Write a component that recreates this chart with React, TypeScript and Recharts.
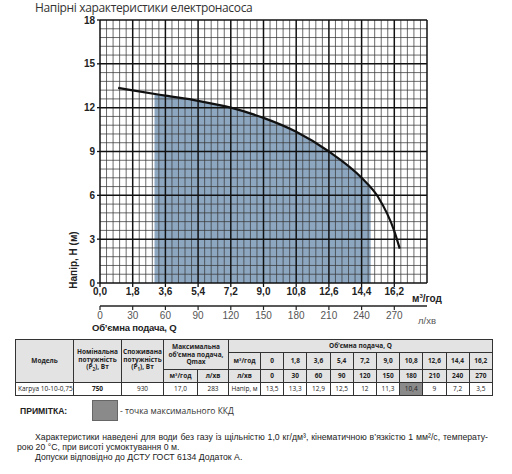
import React from 'react';
import {
  ComposedChart, Line, Area, XAxis, YAxis, ReferenceLine,
} from 'recharts';

// tick labels
const qTicks = [0, 1.8, 3.6, 5.4, 7.2, 9, 10.8, 12.6, 14.4, 16.2];
const lminTicks = [0, 30, 60, 90, 120, 150, 180, 210, 240, 270];
const headTicks = [0, 3, 6, 9, 12, 15, 18];

// pump curve
const curveQ = [1.0, 1.8, 3.6, 5.4, 7.2, 9.0, 10.8, 12.6, 14.4, 15.3, 16.2, 16.5];
const curveH = [13.35, 13.18, 12.82, 12.47, 12.0, 11.3, 10.35, 9.0, 7.2, 5.9, 3.55, 2.35];

// working range (shaded)
const zoneQ = [3.0, 3.6, 5.4, 7.2, 9.0, 10.8, 12.6, 14.4, 14.9];
const zoneH = [12.9, 12.82, 12.47, 12.0, 11.3, 10.35, 9.0, 7.2, 6.5];

// table values
const tableH = [13.5, 13.3, 12.9, 12.5, 12, 11.3, 10.4, 9, 7.2, 3.5];
const bestIdx = 6;

// grid steps
const majorQ = [...qTicks, 18];
const minorQ = Array.from({ length: 50 }, (_, i) => +(i * 0.36).toFixed(2)).filter((v) => !majorQ.some((m) => Math.abs(m - v) < 0.01));
const minorH = Array.from({ length: 30 }, (_, i) => +(i * 0.6).toFixed(1)).filter((v) => !headTicks.some((m) => Math.abs(m - v) < 0.01));

const curve = curveQ.map((q, i) => ({ q, h: curveH[i] }));
const zone = zoneQ.map((q, i) => ({ q, h: zoneH[i] }));
// table points on the l/min scale (drawn invisible, keeps the second axis alive)
const tableLmin = lminTicks.map((l, i) => ({ l, h: tableH[i] }));

const comma = (v: number) => (v === 0 ? '0' : v.toFixed(1).replace('.', ','));
const num = (v: number) => String(v).replace('.', ',');

const AXIS_FONT = 'Liberation Sans, Arial, sans-serif';
const TEXT_FONT = '"Open Sans", "Noto Sans", sans-serif';

const cell: React.CSSProperties = {
  border: '1px solid #333', padding: 0, textAlign: 'center', verticalAlign: 'middle',
  overflow: 'hidden', whiteSpace: 'nowrap',
};
const head: React.CSSProperties = { ...cell, background: '#e3e3e3', fontWeight: 700 };

const SpecTable = () => (
  <table style={{
    position: 'absolute', left: 15, top: 339, width: 477, borderCollapse: 'collapse', tableLayout: 'fixed',
    fontFamily: TEXT_FONT, fontSize: 6.5, color: '#222', lineHeight: '7.5px', borderTop: '1.5px solid #222',
  }}>
    <colgroup>
      {[58, 48, 42, 34, 31, 32].map((w, i) => <col key={i} style={{ width: w }} />)}
      {tableH.map((_, i) => <col key={'d' + i} style={{ width: 23.2 }} />)}
    </colgroup>
    <tbody>
      <tr style={{ height: 13 }}>
        <td rowSpan={3} style={head}>Модель</td>
        <td rowSpan={3} style={{ ...head, whiteSpace: 'normal' }}>Номінальна<br />потужність<br />(P<sub style={{ fontSize: 4.5 }}>2</sub>), Вт</td>
        <td rowSpan={3} style={{ ...head, whiteSpace: 'normal' }}>Споживана<br />потужність<br />(P<sub style={{ fontSize: 4.5 }}>1</sub>), Вт</td>
        <td rowSpan={2} colSpan={2} style={{ ...head, whiteSpace: 'normal' }}>Максимальна<br />об’ємна подача,<br />Qmax</td>
        <td colSpan={11} style={head}>Об’ємна подача, Q</td>
      </tr>
      <tr style={{ height: 17 }}>
        <td style={head}>м³/год</td>
        {qTicks.map((v) => <td key={v} style={head}>{comma(v)}</td>)}
      </tr>
      <tr style={{ height: 13 }}>
        <td style={head}>м³/год</td>
        <td style={head}>л/хв</td>
        <td style={head}>л/хв</td>
        {lminTicks.map((v) => <td key={v} style={head}>{v}</td>)}
      </tr>
      <tr style={{ height: 13 }}>
        <td style={{ ...cell, textAlign: 'left', paddingLeft: 2 }}>Karpya 10-10-0,75</td>
        <td style={{ ...cell, fontWeight: 700 }}>750</td>
        <td style={cell}>930</td>
        <td style={cell}>17,0</td>
        <td style={cell}>283</td>
        <td style={cell}>Напір, м</td>
        {tableH.map((v, i) => (
          <td key={i} style={{ ...cell, background: i === bestIdx ? '#8a8a8a' : '#fff' }}>{num(v)}</td>
        ))}
      </tr>
    </tbody>
  </table>
);

const PumpChart = () => (
  <ComposedChart width={512} height={340} margin={{ top: 20, right: 85, left: 70, bottom: 4 }}
    style={{ position: 'absolute', left: 0, top: 0 }}>
    <XAxis dataKey="q" type="number" domain={[0, 18]} ticks={qTicks} interval={0} allowDataOverflow
      tickFormatter={(v: number) => v.toFixed(1).replace('.', ',')}
      axisLine={false} tickLine={{ stroke: '#111', strokeWidth: 1.3 }} tickSize={4} tickMargin={1} height={23}
      tick={{ fontSize: 10, fontWeight: 700, fill: '#222', fontFamily: AXIS_FONT }} />
    <XAxis xAxisId="lmin" dataKey="l" type="number" domain={[0, 300]} ticks={lminTicks} interval={0} allowDataOverflow
      axisLine={{ stroke: '#222', strokeWidth: 1.5 }} tickLine={{ stroke: '#222', strokeWidth: 1.2 }} tickSize={4} tickMargin={2} height={30}
      tick={{ fontSize: 10, fill: '#555', fontFamily: AXIS_FONT }} />
    <YAxis type="number" domain={[0, 18]} ticks={headTicks} interval={0} width={30} allowDataOverflow
      axisLine={false} tickLine={{ stroke: '#111', strokeWidth: 1.3 }} tickSize={3} tickMargin={2}
      tick={{ fontSize: 10, fontWeight: 700, fill: '#222', fontFamily: AXIS_FONT }} />
    {minorQ.map((v) => <ReferenceLine key={'mq' + v} x={v} stroke="#3a3a3a" strokeWidth={0.75} />)}
    {minorH.map((v) => <ReferenceLine key={'mh' + v} y={v} stroke="#3a3a3a" strokeWidth={0.75} />)}
    {majorQ.map((v) => <ReferenceLine key={'q' + v} x={v} stroke="#111" strokeWidth={1.5} />)}
    {headTicks.map((v) => <ReferenceLine key={'h' + v} y={v} stroke="#111" strokeWidth={1.5} />)}
    <Area data={zone} dataKey="h" type="monotone" fill="#3a6894" fillOpacity={0.58} stroke="none" isAnimationActive={false} />
    <Line data={curve} dataKey="h" type="monotone" stroke="#111" strokeWidth={2.2} dot={false} isAnimationActive={false} />
    <Line xAxisId="lmin" data={tableLmin} dataKey="h" stroke="none" dot={false} activeDot={false} isAnimationActive={false} />
  </ComposedChart>
);

const note: React.CSSProperties = {
  position: 'absolute', fontFamily: AXIS_FONT, fontSize: 8.7, lineHeight: '10px',
  whiteSpace: 'nowrap', color: '#222',
};

export default function App() {
  return (
    <div style={{ position: 'absolute', left: 0, top: 0, width: 512, height: 474, background: '#fff', overflow: 'hidden', color: '#222' }}>
      <div style={{
        position: 'absolute', left: 35, top: 2, fontFamily: TEXT_FONT, fontSize: 12, letterSpacing: -0.35,
        lineHeight: '12px', color: '#333', whiteSpace: 'nowrap',
      }}>
        Напірні характеристики електронасоса
      </div>
      <PumpChart />
      <div style={{
        position: 'absolute', left: 73, top: 260, transform: 'translate(-50%, -50%) rotate(-90deg)',
        fontFamily: AXIS_FONT, fontSize: 10, fontWeight: 700, whiteSpace: 'nowrap', lineHeight: '11px',
      }}>Напір, H (м)</div>
      <div style={{ position: 'absolute', left: 412, top: 290, fontFamily: AXIS_FONT, fontSize: 10, fontWeight: 700, whiteSpace: 'nowrap', lineHeight: '12px' }}>
        м<sup style={{ fontSize: 6 }}>3</sup>/год
      </div>
      <div style={{ position: 'absolute', left: 418, top: 315, fontFamily: AXIS_FONT, fontSize: 9.5, color: '#555', whiteSpace: 'nowrap', lineHeight: '11px' }}>л/хв</div>
      <div style={{
        position: 'absolute', left: 92, top: 322, fontFamily: AXIS_FONT, fontSize: 9.5, fontWeight: 700, letterSpacing: -0.2,
        whiteSpace: 'nowrap', lineHeight: '11px',
      }}>
        Об’ємна подача, Q
      </div>
      <SpecTable />
      <div style={{ position: 'absolute', left: 20, top: 406, fontFamily: AXIS_FONT, fontSize: 8.6, fontWeight: 700, whiteSpace: 'nowrap', lineHeight: '10px' }}>ПРИМІТКА:</div>
      <div style={{ position: 'absolute', left: 92, top: 400, width: 24, height: 19, background: '#8a8a8a', border: '1px solid #666' }} />
      <div style={{ position: 'absolute', left: 120, top: 406, fontFamily: TEXT_FONT, fontSize: 8.5, color: '#333', whiteSpace: 'nowrap', lineHeight: '10px' }}>- точка максимального ККД</div>
      <div style={{ ...note, left: 35, top: 432, width: 453, textAlign: 'justify', textAlignLast: 'justify' }}>
        Характеристики наведені для води без газу із щільністю 1,0 кг/дм³, кінематичною в’язкістю 1 мм²/с, температу-
      </div>
      <div style={{ ...note, left: 17, top: 442 }}>
        рою 20 °C, при висоті усмоктування 0 м.
      </div>
      <div style={{ ...note, left: 35, top: 452 }}>
        Допуски відповідно до ДСТУ ГОСТ 6134 Додаток А.
      </div>
    </div>
  );
}
